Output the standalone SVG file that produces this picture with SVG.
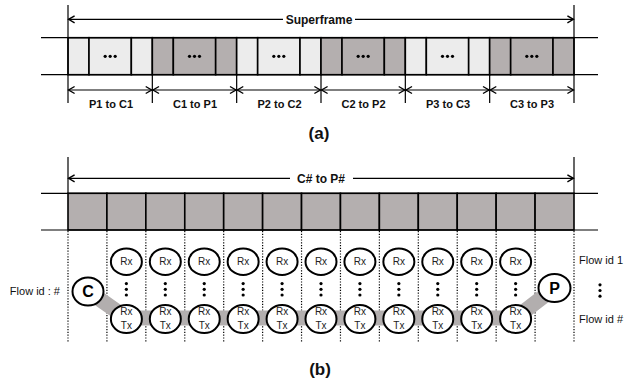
<svg xmlns="http://www.w3.org/2000/svg" xmlns:xlink="http://www.w3.org/1999/xlink" width="629" height="384" viewBox="0 0 629 384">
<style>
.bg{fill:#fff}
.lt{fill:#ececec;stroke:#000;stroke-width:1.6}
.dk{fill:#b4afaf;stroke:#000;stroke-width:1.6}
.hl{stroke:#000;stroke-width:1.2;fill:none}
.vl{stroke:#000;stroke-width:1.2;fill:none}
.dot{stroke:#000;stroke-width:1.2;stroke-dasharray:1.2 1.6;fill:none}
.arr{stroke:#000;stroke-width:1.2;fill:none;marker-start:url(#ah);marker-end:url(#ah)}
.arr1{stroke:#000;stroke-width:1.2;fill:none}
.lbl{font-family:"Liberation Sans",Arial,sans-serif;font-weight:bold;font-size:11px;text-anchor:middle;fill:#111}
.ttl{font-family:"Liberation Sans",Arial,sans-serif;font-weight:bold;font-size:12px;text-anchor:middle;fill:#111}
.cap{font-family:"Liberation Sans",Arial,sans-serif;font-weight:bold;font-size:17px;text-anchor:middle;fill:#111}
.fl{font-family:"Liberation Sans",Arial,sans-serif;font-size:11px;fill:#111}
.nd{fill:#fff;stroke:#000;stroke-width:2}
.ntx{font-family:"Liberation Sans",Arial,sans-serif;font-size:10px;text-anchor:middle;fill:#222}
.big{font-family:"Liberation Sans",Arial,sans-serif;font-weight:bold;font-size:16px;text-anchor:middle;fill:#000}
.band{stroke:#b2aeae;stroke-width:15;fill:none}
</style>
<defs>
<marker id="ah" markerWidth="10" markerHeight="10" refX="8" refY="5" orient="auto-start-reverse" markerUnits="userSpaceOnUse">
<path d="M2,1.5 L8,5 L2,8.5" fill="none" stroke="#000" stroke-width="1.4"/>
</marker>
<g id="dots3"><circle cx="-5" cy="0" r="1.6"/><circle cx="0" cy="0" r="1.6"/><circle cx="5" cy="0" r="1.6"/></g>
<g id="vdots"><circle cx="0" cy="-5.7" r="1.6"/><circle cx="0" cy="0" r="1.6"/><circle cx="0" cy="5.7" r="1.6"/></g>
</defs>
<rect class="bg" x="0" y="0" width="629" height="384"/>

<!-- (a) -->
<g id="frame-a">
<g id="g-p1c1">
<rect class="lt" x="68" y="37.7" width="21" height="37"/>
<rect class="lt" x="89" y="37.7" width="42.33" height="37"/>
<rect class="lt" x="131.33" y="37.7" width="21" height="37"/>
<use xlink:href="#dots3" x="110.17" y="56.3"/>
</g>
<g id="g-c1p1">
<rect class="dk" x="152.33" y="37.7" width="21" height="37"/>
<rect class="dk" x="173.33" y="37.7" width="42.33" height="37"/>
<rect class="dk" x="215.67" y="37.7" width="21" height="37"/>
<use xlink:href="#dots3" x="194.5" y="56.3"/>
</g>
<g id="g-p2c2">
<rect class="lt" x="236.67" y="37.7" width="21" height="37"/>
<rect class="lt" x="257.67" y="37.7" width="42.33" height="37"/>
<rect class="lt" x="300" y="37.7" width="21" height="37"/>
<use xlink:href="#dots3" x="278.83" y="56.3"/>
</g>
<g id="g-c2p2">
<rect class="dk" x="321" y="37.7" width="21" height="37"/>
<rect class="dk" x="342" y="37.7" width="42.33" height="37"/>
<rect class="dk" x="384.33" y="37.7" width="21" height="37"/>
<use xlink:href="#dots3" x="363.17" y="56.3"/>
</g>
<g id="g-p3c3">
<rect class="lt" x="405.33" y="37.7" width="21" height="37"/>
<rect class="lt" x="426.33" y="37.7" width="42.34" height="37"/>
<rect class="lt" x="468.67" y="37.7" width="21" height="37"/>
<use xlink:href="#dots3" x="447.5" y="56.3"/>
</g>
<g id="g-c3p3">
<rect class="dk" x="489.67" y="37.7" width="21" height="37"/>
<rect class="dk" x="510.67" y="37.7" width="42.33" height="37"/>
<rect class="dk" x="553" y="37.7" width="21" height="37"/>
<use xlink:href="#dots3" x="531.83" y="56.3"/>
</g>
</g>

<g id="connectors-a">
<line class="hl" x1="41" y1="37.7" x2="598" y2="37.7"/>
<line class="hl" x1="41" y1="74.7" x2="598" y2="74.7"/>
<line class="vl" x1="68" y1="5" x2="68" y2="103"/>
<line class="vl" x1="574" y1="5" x2="574" y2="103"/>
<line class="vl" x1="152.33" y1="74.7" x2="152.33" y2="103"/>
<line class="vl" x1="236.67" y1="74.7" x2="236.67" y2="103"/>
<line class="vl" x1="321" y1="74.7" x2="321" y2="103"/>
<line class="vl" x1="405.33" y1="74.7" x2="405.33" y2="103"/>
<line class="vl" x1="489.67" y1="74.7" x2="489.67" y2="103"/>
<line class="arr1" x1="68.6" y1="19.3" x2="283" y2="19.3" marker-start="url(#ah)"/>
<line class="arr1" x1="355" y1="19.3" x2="573.4" y2="19.3" marker-end="url(#ah)"/>
<line class="arr" x1="68.6" y1="90" x2="151.7" y2="90"/>
<line class="arr" x1="153" y1="90" x2="236" y2="90"/>
<line class="arr" x1="237.3" y1="90" x2="320.4" y2="90"/>
<line class="arr" x1="321.6" y1="90" x2="404.7" y2="90"/>
<line class="arr" x1="406" y1="90" x2="489" y2="90"/>
<line class="arr" x1="490.3" y1="90" x2="573.4" y2="90"/>
</g>
<text class="ttl" x="319" y="23.5">Superframe</text>
<text class="lbl" x="111" y="107.5">P1 to C1</text>
<text class="lbl" x="195" y="107.5">C1 to P1</text>
<text class="lbl" x="279.5" y="107.5">P2 to C2</text>
<text class="lbl" x="363.5" y="107.5">C2 to P2</text>
<text class="lbl" x="448" y="107.5">P3 to C3</text>
<text class="lbl" x="532" y="107.5">C3 to P3</text>
<text class="cap" x="319" y="139">(a)</text>

<!-- (b) -->
<g id="frame-b">
<rect class="dk" x="68" y="193.3" width="38.92" height="36.7"/>
<rect class="dk" x="106.92" y="193.3" width="38.93" height="36.7"/>
<rect class="dk" x="145.85" y="193.3" width="38.92" height="36.7"/>
<rect class="dk" x="184.77" y="193.3" width="38.92" height="36.7"/>
<rect class="dk" x="223.69" y="193.3" width="38.93" height="36.7"/>
<rect class="dk" x="262.62" y="193.3" width="38.92" height="36.7"/>
<rect class="dk" x="301.54" y="193.3" width="38.92" height="36.7"/>
<rect class="dk" x="340.46" y="193.3" width="38.92" height="36.7"/>
<rect class="dk" x="379.38" y="193.3" width="38.93" height="36.7"/>
<rect class="dk" x="418.31" y="193.3" width="38.92" height="36.7"/>
<rect class="dk" x="457.23" y="193.3" width="38.92" height="36.7"/>
<rect class="dk" x="496.15" y="193.3" width="38.93" height="36.7"/>
<rect class="dk" x="535.08" y="193.3" width="38.92" height="36.7"/>
</g>

<g id="connectors-b">
<line class="hl" x1="41" y1="193.3" x2="598" y2="193.3"/>
<line class="hl" x1="41" y1="230" x2="598" y2="230"/>
<line class="vl" x1="68" y1="157" x2="68" y2="193.3"/>
<line class="vl" x1="574" y1="157" x2="574" y2="193.3"/>
<line class="arr1" x1="68.6" y1="178.3" x2="290" y2="178.3" marker-start="url(#ah)"/>
<line class="arr1" x1="353" y1="178.3" x2="573.4" y2="178.3" marker-end="url(#ah)"/>
<g id="dotted">
<line class="dot" x1="68" y1="231" x2="68" y2="342"/>
<line class="dot" x1="106.92" y1="231" x2="106.92" y2="342"/>
<line class="dot" x1="145.85" y1="231" x2="145.85" y2="342"/>
<line class="dot" x1="184.77" y1="231" x2="184.77" y2="342"/>
<line class="dot" x1="223.69" y1="231" x2="223.69" y2="342"/>
<line class="dot" x1="262.62" y1="231" x2="262.62" y2="342"/>
<line class="dot" x1="301.54" y1="231" x2="301.54" y2="342"/>
<line class="dot" x1="340.46" y1="231" x2="340.46" y2="342"/>
<line class="dot" x1="379.38" y1="231" x2="379.38" y2="342"/>
<line class="dot" x1="418.31" y1="231" x2="418.31" y2="342"/>
<line class="dot" x1="457.23" y1="231" x2="457.23" y2="342"/>
<line class="dot" x1="496.15" y1="231" x2="496.15" y2="342"/>
<line class="dot" x1="535.08" y1="231" x2="535.08" y2="342"/>
<line class="dot" x1="574" y1="231" x2="574" y2="342"/>
</g>
<polyline class="band" points="88,291 126.4,318 515.6,318 554.5,288"/>
</g>
<text class="ttl" x="321" y="182.5">C# to P#</text>

<g id="node-C"><ellipse class="nd" cx="88" cy="291.5" rx="15.5" ry="14"/><text class="big" x="88" y="297.3">C</text></g>
<g id="node-P"><ellipse class="nd" cx="554.5" cy="288" rx="16" ry="14"/><text class="big" x="554.5" y="293.8">P</text></g>

<g id="col1"><ellipse class="nd" cx="126.38" cy="261.7" rx="15.5" ry="13.3"/><text class="ntx" x="126.38" y="265.2">Rx</text><use xlink:href="#vdots" x="126.38" y="289.3"/><ellipse class="nd" cx="126.38" cy="319" rx="15.5" ry="14"/><text class="ntx" x="126.38" y="315">Rx</text><text class="ntx" x="126.38" y="329">Tx</text></g>
<g id="col2"><ellipse class="nd" cx="165.31" cy="261.7" rx="15.5" ry="13.3"/><text class="ntx" x="165.31" y="265.2">Rx</text><use xlink:href="#vdots" x="165.31" y="289.3"/><ellipse class="nd" cx="165.31" cy="319" rx="15.5" ry="14"/><text class="ntx" x="165.31" y="315">Rx</text><text class="ntx" x="165.31" y="329">Tx</text></g>
<g id="col3"><ellipse class="nd" cx="204.23" cy="261.7" rx="15.5" ry="13.3"/><text class="ntx" x="204.23" y="265.2">Rx</text><use xlink:href="#vdots" x="204.23" y="289.3"/><ellipse class="nd" cx="204.23" cy="319" rx="15.5" ry="14"/><text class="ntx" x="204.23" y="315">Rx</text><text class="ntx" x="204.23" y="329">Tx</text></g>
<g id="col4"><ellipse class="nd" cx="243.15" cy="261.7" rx="15.5" ry="13.3"/><text class="ntx" x="243.15" y="265.2">Rx</text><use xlink:href="#vdots" x="243.15" y="289.3"/><ellipse class="nd" cx="243.15" cy="319" rx="15.5" ry="14"/><text class="ntx" x="243.15" y="315">Rx</text><text class="ntx" x="243.15" y="329">Tx</text></g>
<g id="col5"><ellipse class="nd" cx="282.08" cy="261.7" rx="15.5" ry="13.3"/><text class="ntx" x="282.08" y="265.2">Rx</text><use xlink:href="#vdots" x="282.08" y="289.3"/><ellipse class="nd" cx="282.08" cy="319" rx="15.5" ry="14"/><text class="ntx" x="282.08" y="315">Rx</text><text class="ntx" x="282.08" y="329">Tx</text></g>
<g id="col6"><ellipse class="nd" cx="321" cy="261.7" rx="15.5" ry="13.3"/><text class="ntx" x="321" y="265.2">Rx</text><use xlink:href="#vdots" x="321" y="289.3"/><ellipse class="nd" cx="321" cy="319" rx="15.5" ry="14"/><text class="ntx" x="321" y="315">Rx</text><text class="ntx" x="321" y="329">Tx</text></g>
<g id="col7"><ellipse class="nd" cx="359.92" cy="261.7" rx="15.5" ry="13.3"/><text class="ntx" x="359.92" y="265.2">Rx</text><use xlink:href="#vdots" x="359.92" y="289.3"/><ellipse class="nd" cx="359.92" cy="319" rx="15.5" ry="14"/><text class="ntx" x="359.92" y="315">Rx</text><text class="ntx" x="359.92" y="329">Tx</text></g>
<g id="col8"><ellipse class="nd" cx="398.85" cy="261.7" rx="15.5" ry="13.3"/><text class="ntx" x="398.85" y="265.2">Rx</text><use xlink:href="#vdots" x="398.85" y="289.3"/><ellipse class="nd" cx="398.85" cy="319" rx="15.5" ry="14"/><text class="ntx" x="398.85" y="315">Rx</text><text class="ntx" x="398.85" y="329">Tx</text></g>
<g id="col9"><ellipse class="nd" cx="437.77" cy="261.7" rx="15.5" ry="13.3"/><text class="ntx" x="437.77" y="265.2">Rx</text><use xlink:href="#vdots" x="437.77" y="289.3"/><ellipse class="nd" cx="437.77" cy="319" rx="15.5" ry="14"/><text class="ntx" x="437.77" y="315">Rx</text><text class="ntx" x="437.77" y="329">Tx</text></g>
<g id="col10"><ellipse class="nd" cx="476.69" cy="261.7" rx="15.5" ry="13.3"/><text class="ntx" x="476.69" y="265.2">Rx</text><use xlink:href="#vdots" x="476.69" y="289.3"/><ellipse class="nd" cx="476.69" cy="319" rx="15.5" ry="14"/><text class="ntx" x="476.69" y="315">Rx</text><text class="ntx" x="476.69" y="329">Tx</text></g>
<g id="col11"><ellipse class="nd" cx="515.62" cy="261.7" rx="15.5" ry="13.3"/><text class="ntx" x="515.62" y="265.2">Rx</text><use xlink:href="#vdots" x="515.62" y="289.3"/><ellipse class="nd" cx="515.62" cy="319" rx="15.5" ry="14"/><text class="ntx" x="515.62" y="315">Rx</text><text class="ntx" x="515.62" y="329">Tx</text></g>

<text class="fl" x="60" y="295" text-anchor="end">Flow id : #</text>
<text class="fl" x="579" y="263.5">Flow id 1</text>
<use xlink:href="#vdots" x="600" y="290.5"/>
<text class="fl" x="579" y="322.5">Flow id #</text>
<text class="cap" x="320" y="375">(b)</text>
</svg>
